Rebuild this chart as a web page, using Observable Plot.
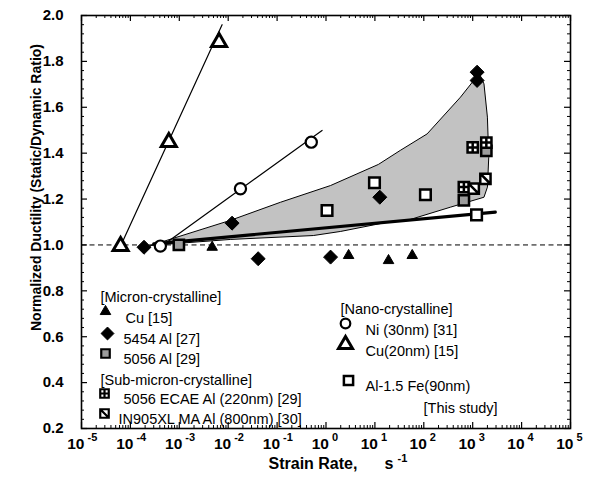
<!DOCTYPE html>
<html>
<head>
<meta charset="utf-8">
<script src="https://cdn.jsdelivr.net/npm/d3@7"></script>
<script src="https://cdn.jsdelivr.net/npm/@observablehq/plot@0.6"></script>
<style>
  html, body { margin: 0; padding: 0; background: #fff; }
  #chart { width: 597px; height: 478px; }
</style>
</head>
<body>
<div id="chart"></div>
<script>
// ---------- data ----------
const cuMicronX = [4.7e-3, 2.9, 19, 58];
const cuMicronY = [0.99, 0.954, 0.932, 0.954];

const al5454X = [1.9e-4, 0.012, 0.041, 1.24, 12.6, 1230, 1230];
const al5454Y = [0.99, 1.095, 0.94, 0.947, 1.208, 1.753, 1.717];

const al5056X = [9.8e-4, 660, 1900];
const al5056Y = [1.0, 1.194, 1.41];

const ecaeX = [1000, 1900, 660];
const ecaeY = [1.425, 1.446, 1.252];

const in905X = [1820, 1050];
const in905Y = [1.288, 1.245];

const niX = [4.1e-4, 0.0178, 0.50];
const niY = [0.995, 1.245, 1.448];
const niLineX = [5.6e-4, 0.83];
const niLineY = [1.012, 1.499];

const cuNanoX = [6.3e-5, 6.1e-4, 6.5e-3];
const cuNanoY = [0.995, 1.448, 1.884];
const cuNanoLineX = [6.3e-5, 7.5e-3];
const cuNanoLineY = [0.995, 1.96];

const alFeX = [1.05, 9.8, 108, 1200];
const alFeY = [1.150, 1.271, 1.219, 1.131];

const trendX = [3e-4, 2900];
const trendY = [1.005, 1.143];

const bandX = [2.6e-4, 0.011, 0.117, 1.24, 11.8, 33, 117, 562, 1050, 1230, 1700, 2000, 2130, 2000, 1700, 355, 46, 21, 2, 0.55, 0.011, 2.6e-4];
const bandY = [0.998, 1.107, 1.186, 1.259, 1.351, 1.412, 1.484, 1.644, 1.717, 1.769, 1.702, 1.557, 1.382, 1.252, 1.208, 1.165, 1.107, 1.102, 1.059, 1.041, 1.024, 0.998];

const xExponents = [-5, -4, -3, -2, -1, 0, 1, 2, 3, 4, 5];
const yTickLabels = ["0.2", "0.4", "0.6", "0.8", "1.0", "1.2", "1.4", "1.6", "1.8", "2.0"];

const legendLeft = ["[Micron-crystalline]", "Cu [15]", "5454 Al [27]", "5056 Al [29]", "[Sub-micron-crystalline]", "5056 ECAE Al (220nm) [29]", "IN905XL MA Al (800nm) [30]"];
const legendRight = ["[Nano-crystalline]", "Ni (30nm) [31]", "Cu(20nm) [15]", "Al-1.5 Fe(90nm)", "[This study]"];

// ---------- layout ----------
const W = 597, H = 478, mL = 81, mR = 27, mT = 15, mB = 50;
const yMin = 0.2, yMax = 2.0, xMin = 1e-5, xMax = 1e5;
const ky = (yMax - yMin) / (H - mT - mB);   // data units per px (y)
const kx = 10 / (W - mL - mR);              // decades per px (x)

const xMajor = xExponents.map(e => 10 ** e);
const xMinor = [];
for (let e = -5; e < 5; e++) for (let m = 2; m <= 9; m++) xMinor.push(m * 10 ** e);
const yMajor = yTickLabels.map(Number);
const yMinor = [];
for (let i = 0; i <= 45; i++) if (i % 5 !== 0) yMinor.push(+(0.2 + 0.04 * i).toFixed(2));

const pts = (xs, ys) => xs.map((x, i) => ({x, y: ys[i]}));

const FONT = "'Liberation Sans', Arial, Helvetica, sans-serif";
const GRAY = "#9c9c9c";

const gridSym = {draw(ctx, size) {
  const w = Math.sqrt(size) / 2;
  ctx.moveTo(-w, -w); ctx.lineTo(w, -w); ctx.lineTo(w, w); ctx.lineTo(-w, w); ctx.closePath();
  ctx.moveTo(-w, 0); ctx.lineTo(w, 0); ctx.moveTo(0, -w); ctx.lineTo(0, w);
}};
const hatchSym = {draw(ctx, size) {
  const w = Math.sqrt(size) / 2;
  ctx.moveTo(-w, -w); ctx.lineTo(w, -w); ctx.lineTo(w, w); ctx.lineTo(-w, w); ctx.closePath();
  ctx.moveTo(-w, -w); ctx.lineTo(w, w);
}};

// marker styles
const S = {
  cuMicron: {symbol: "triangle", r: 3.9, fill: "black", stroke: "black", strokeWidth: 1},
  al5454: {symbol: "diamond2", r: 6.3, fill: "black", stroke: "black", strokeWidth: 1},
  al5056: {symbol: "square", r: 5.8, fill: GRAY, stroke: "black", strokeWidth: 2.5},
  ecae: {symbol: gridSym, r: 5.8, fill: "white", stroke: "black", strokeWidth: 2.5},
  in905: {symbol: hatchSym, r: 5.8, fill: "white", stroke: "black", strokeWidth: 2.5},
  ni: {symbol: "circle", r: 5.6, fill: "white", stroke: "black", strokeWidth: 2.2},
  cuNano: {symbol: "triangle", r: 5.6, fill: "white", stroke: "black", strokeWidth: 3},
  alFe: {symbol: "square", r: 6, fill: "white", stroke: "black", strokeWidth: 2.5}
};

const legendDot = (px, py, style) => Plot.dot([0], {frameAnchor: "top-left", dx: px - mL, dy: py - mT, ...style});
const legendText = (label, px, py) => Plot.text([label], {frameAnchor: "top-left", dx: px - mL, dy: py - mT, text: d => d, textAnchor: "start", fontSize: 14.5, fill: "black"});

const plot = Plot.plot({
  width: W, height: H,
  marginLeft: mL, marginRight: mR, marginTop: mT, marginBottom: mB,
  style: {fontFamily: FONT, background: "white", color: "black"},
  x: {type: "log", domain: [xMin, xMax], axis: null},
  y: {domain: [yMin, yMax], axis: null},
  marks: [
    // shaded band
    Plot.line(pts(bandX, bandY), {x: "x", y: "y", fill: "#c2c2c2", stroke: "black", strokeWidth: 1}),
    // reference line at 1.0
    Plot.ruleY([1], {stroke: "black", strokeWidth: 1, strokeDasharray: "5,3.5"}),
    // fit lines
    Plot.line(pts(cuNanoLineX, cuNanoLineY), {x: "x", y: "y", stroke: "black", strokeWidth: 1.2}),
    Plot.line(pts(niLineX, niLineY), {x: "x", y: "y", stroke: "black", strokeWidth: 1.2}),
    Plot.line(pts(trendX, trendY), {x: "x", y: "y", stroke: "black", strokeWidth: 3.2}),
    // markers
    Plot.dot(pts(cuMicronX, cuMicronY), {x: "x", y: "y", ...S.cuMicron}),
    Plot.dot(pts(al5454X, al5454Y), {x: "x", y: "y", ...S.al5454}),
    Plot.dot(pts(al5056X, al5056Y), {x: "x", y: "y", ...S.al5056}),
    Plot.dot(pts(ecaeX, ecaeY), {x: "x", y: "y", ...S.ecae}),
    Plot.dot(pts(in905X, in905Y), {x: "x", y: "y", ...S.in905}),
    Plot.dot(pts(alFeX, alFeY), {x: "x", y: "y", ...S.alFe}),
    Plot.dot(pts(niX, niY), {x: "x", y: "y", ...S.ni}),
    Plot.dot(pts(cuNanoX, cuNanoY), {x: "x", y: "y", ...S.cuNano}),

    // legend (left block)
    legendText(legendLeft[0], 100, 291),
    legendDot(105, 311, S.cuMicron), legendText(legendLeft[1], 125, 312),
    legendDot(107, 333, {...S.al5454, r: 5.8}), legendText(legendLeft[2], 123, 333),
    legendDot(105, 353, {...S.al5056, r: 4.8, strokeWidth: 2.2}), legendText(legendLeft[3], 123, 353),
    legendText(legendLeft[4], 100, 374),
    legendDot(104, 393, {...S.ecae, r: 4.8, strokeWidth: 2.2}), legendText(legendLeft[5], 123, 393),
    legendDot(104, 413, {...S.in905, r: 4.8, strokeWidth: 2.2}), legendText(legendLeft[6], 118, 413),
    // legend (right block)
    legendText(legendRight[0], 340, 303),
    legendDot(345, 323, {...S.ni, r: 4.8}), legendText(legendRight[1], 365, 324),
    legendDot(345, 344, {...S.cuNano, r: 5.2}), legendText(legendRight[2], 365, 345),
    legendDot(348, 380, {...S.alFe, r: 5.2}), legendText(legendRight[3], 365, 380),
    legendText(legendRight[4], 423, 402),

    // ticks (inward, all four sides)
    Plot.ruleX(xMajor, {x: d => d, y1: yMin, y2: yMin + 6 * ky, stroke: "black", strokeWidth: 1.2}),
    Plot.ruleX(xMinor, {x: d => d, y1: yMin, y2: yMin + 3 * ky, stroke: "black", strokeWidth: 1}),
    Plot.ruleX(xMajor, {x: d => d, y1: yMax, y2: yMax - 6 * ky, stroke: "black", strokeWidth: 1.2}),
    Plot.ruleX(xMinor, {x: d => d, y1: yMax, y2: yMax - 3 * ky, stroke: "black", strokeWidth: 1}),
    Plot.ruleY(yMajor, {y: d => d, x1: xMin, x2: xMin * 10 ** (6 * kx), stroke: "black", strokeWidth: 1.2}),
    Plot.ruleY(yMinor, {y: d => d, x1: xMin, x2: xMin * 10 ** (3 * kx), stroke: "black", strokeWidth: 1}),
    Plot.ruleY(yMajor, {y: d => d, x1: xMax, x2: xMax / 10 ** (6 * kx), stroke: "black", strokeWidth: 1.2}),
    Plot.ruleY(yMinor, {y: d => d, x1: xMax, x2: xMax / 10 ** (3 * kx), stroke: "black", strokeWidth: 1}),
    Plot.frame({stroke: "black", strokeWidth: 1.6}),

    // tick labels
    Plot.text(yMajor, {y: d => d, frameAnchor: "left", text: (d, i) => yTickLabels[i], textAnchor: "end", dx: -18, fontWeight: "bold", fontSize: 15, fill: "black"}),
    Plot.text(xMajor, {x: d => d, frameAnchor: "bottom", text: () => "10", textAnchor: "end", dx: 3, dy: 20, fontWeight: "bold", fontSize: 15.5, fill: "black"}),
    Plot.text(xMajor, {x: d => d, frameAnchor: "bottom", text: (d, i) => String(xExponents[i]), textAnchor: "start", dx: 6, dy: 12, fontWeight: "bold", fontSize: 11, fill: "black"}),

    // axis titles
    Plot.text(["Strain Rate,"], {frameAnchor: "bottom-left", dx: 268 - mL, dy: 40, text: d => d, textAnchor: "start", fontWeight: "bold", fontSize: 16, fill: "black"}),
    Plot.text(["s"], {frameAnchor: "bottom-left", dx: 384 - mL, dy: 40, text: d => d, textAnchor: "start", fontWeight: "bold", fontSize: 16, fill: "black"}),
    Plot.text(["-1"], {frameAnchor: "bottom-left", dx: 397 - mL, dy: 33, text: d => d, textAnchor: "start", fontWeight: "bold", fontSize: 11, fill: "black"}),
    Plot.text(["Normalized Ductility (Static/Dynamic Ratio)"], {frameAnchor: "left", textAnchor: "middle", dx: 36 - mL, dy: 187 - (mT + (H - mB)) / 2, rotate: -90, text: d => d, fontWeight: "bold", fontSize: 14, fill: "black"})
  ]
});
document.getElementById("chart").appendChild(plot);
</script>
</body>
</html>
